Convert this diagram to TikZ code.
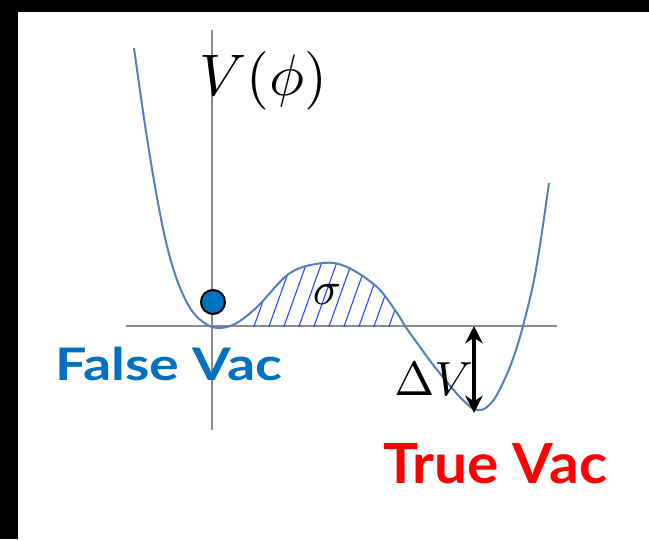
\documentclass[tikz,border=0pt]{standalone}
\usepackage{fontspec}
\usepackage{graphicx}
\usetikzlibrary{arrows.meta}
\newfontfamily\vacfont{Lato}
\definecolor{curveblue}{RGB}{79,129,189}
\definecolor{hatchblue}{RGB}{40,70,255}
\definecolor{falseblue}{RGB}{0,112,192}
\definecolor{truered}{RGB}{255,0,0}
\definecolor{axisgray}{RGB}{140,140,140}
\tikzset{
  axisline/.style={draw=axisgray, line width=1.1pt},
  potcurve/.style={draw=curveblue, line width=1.5pt},
  hatchline/.style={draw=hatchblue, line width=0.8pt},
  ball/.style={circle, draw=black, line width=1.5pt, fill=falseblue, minimum size=18pt, inner sep=0pt},
  mathlabel/.style={inner sep=0pt, text=black},
  vaclabel/.style={inner sep=0pt, font=\vacfont\bfseries},
  dvarrow/.style={line width=2.4pt, {Stealth[length=13pt,width=13pt]}-{Stealth[length=13pt,width=13pt]}}
}
\begin{document}
\begin{tikzpicture}[x=0.75pt,y=-0.75pt]
\useasboundingbox (0,0) rectangle (649,539);
\fill[white] (0,0) rectangle (649,539);
% black frame strips
\fill[black] (0,0) rectangle (649,12);
\fill[black] (0,0) rectangle (18,539);
% axes
\coordinate (hx0) at (126,326);
\coordinate (hx1) at (557,326);
\coordinate (vy0) at (212,30);
\coordinate (vy1) at (212,430);
\draw[axisline] (hx0) -- (hx1);
\draw[axisline] (vy0) -- (vy1);
% potential curve points
\def\curvepts{(134,48) (145,125) (156,192) (166,242) (177,280) (190,308) (203,322) (217,328) (235,324) (257,307) (290,273) (323,263) (347,267) (377,287) (397,313) (405,326) (420,347) (434,366) (447,382) (458,395) (466,403) (472,408) (478,410) (485,408.5) (495,398) (507,374) (515,353) (523,326) (533,285) (540,245) (549,183)}
% hatched region sigma
\begin{scope}
  \clip (245,0) rectangle (405,326);
  \clip plot[smooth, tension=0.55] coordinates {\curvepts} -- (549,600) -- (134,600) -- cycle;
  \foreach \i in {0,...,12} {
    \draw[hatchline] (237.7+15*\i,330) -- (237.7+15*\i+30,246);
  }
\end{scope}
% potential curve
\draw[potcurve] plot[smooth, tension=0.55] coordinates {\curvepts};
% ball
\node[ball] (ball) at (213,302) {};
% labels
\node[mathlabel, anchor=base west] (vphi) at (199,95) {\scalebox{4.4}{$V(\phi)$}};
\node[mathlabel] (sigma) at (327,294) {\scalebox{3.5}{$\sigma$}};
\node[mathlabel, anchor=base west] (dv) at (394,395) {\scalebox{3.6}{$\Delta V$}};
\node[vaclabel, text=falseblue, anchor=base west] (falsevac) at (55,380) {\resizebox{170pt}{25pt}{False Vac}};
\node[vaclabel, text=truered, anchor=base west] (truevac) at (383,483) {\resizebox{168pt}{30pt}{True Vac}};
% delta V arrow
\coordinate (dvtop) at (474,326);
\coordinate (dvbot) at (474,413);
\draw[dvarrow] (dvtop) -- (dvbot);
\end{tikzpicture}
\end{document}
